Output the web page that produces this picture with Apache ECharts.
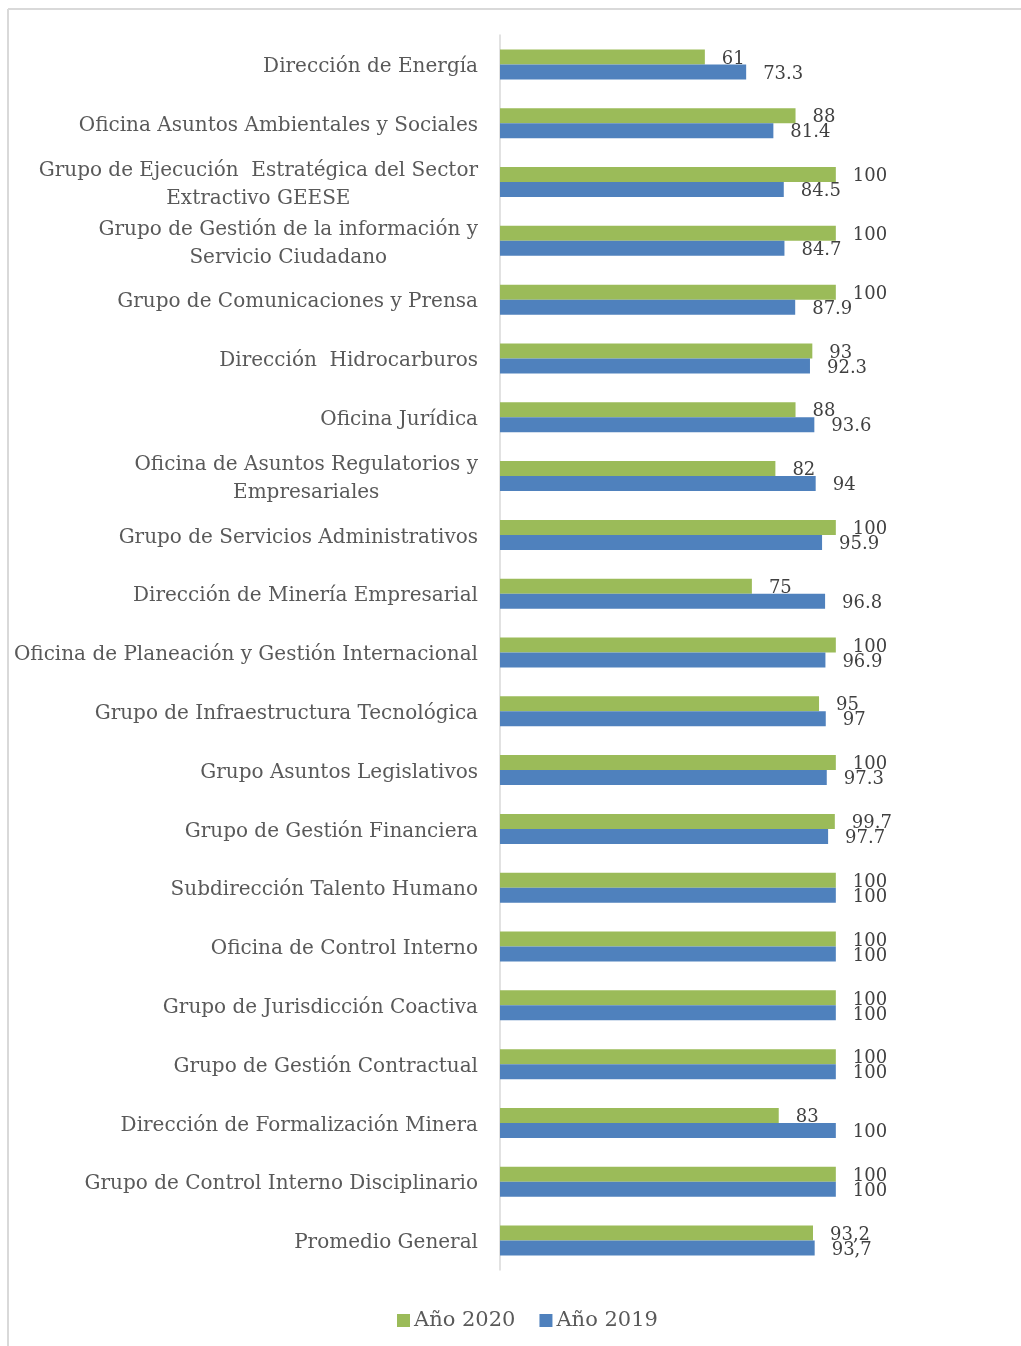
<!DOCTYPE html>
<html>
<head>
<meta charset="utf-8">
<script src="https://cdn.jsdelivr.net/npm/echarts@6/dist/echarts.min.js"></script>
<style>
html,body{margin:0;padding:0;background:#fff;}
#chart{width:1021px;height:1346px;}
</style>
</head>
<body>
<div id="chart"></div>
<script>
const categories = [
  "Dirección de Energía",
  "Oficina Asuntos Ambientales y Sociales",
  "Grupo de Ejecución  Estratégica del Sector\nExtractivo GEESE",
  "Grupo de Gestión de la información y\nServicio Ciudadano",
  "Grupo de Comunicaciones y Prensa",
  "Dirección  Hidrocarburos",
  "Oficina Jurídica",
  "Oficina de Asuntos Regulatorios y\nEmpresariales",
  "Grupo de Servicios Administrativos",
  "Dirección de Minería Empresarial",
  "Oficina de Planeación y Gestión Internacional",
  "Grupo de Infraestructura Tecnológica",
  "Grupo Asuntos Legislativos",
  "Grupo de Gestión Financiera",
  "Subdirección Talento Humano",
  "Oficina de Control Interno",
  "Grupo de Jurisdicción Coactiva",
  "Grupo de Gestión Contractual",
  "Dirección de Formalización Minera",
  "Grupo de Control Interno Disciplinario",
  "Promedio General"
];
const values2020 = [61, 88, 100, 100, 100, 93, 88, 82, 100, 75, 100, 95, 100, 99.7, 100, 100, 100, 100, 83, 100, 93.2];
const values2019 = [73.3, 81.4, 84.5, 84.7, 87.9, 92.3, 93.6, 94, 95.9, 96.8, 96.9, 97, 97.3, 97.7, 100, 100, 100, 100, 100, 100, 93.7];
const labels2020 = ["61","88","100","100","100","93","88","82","100","75","100","95","100","99.7","100","100","100","100","83","100","93,2"];
const labels2019 = ["73.3","81.4","84.5","84.7","87.9","92.3","93.6","94","95.9","96.8","96.9","97","97.3","97.7","100","100","100","100","100","100","93,7"];
const seriesNames = ["Año 2020", "Año 2019"];

const FONT = "DejaVu Serif";
const TXT = "#595959";
const chart = echarts.init(document.getElementById('chart'), null, {renderer: 'canvas'});

const option = {
  backgroundColor: '#ffffff',
  animation: false,
  textStyle: {fontFamily: FONT},
  graphic: [
    {type: 'line', shape: {x1: 8, y1: 9, x2: 8, y2: 1346}, style: {stroke: '#d9d9d9', lineWidth: 2}},
    {type: 'line', shape: {x1: 8, y1: 9, x2: 1021, y2: 9}, style: {stroke: '#d9d9d9', lineWidth: 2}}
  ],
  legend: {
    top: 1305,
    left: 392,
    itemWidth: 13,
    itemHeight: 13,
    itemGap: 24,
    icon: 'rect',
    textStyle: {fontFamily: FONT, fontSize: 21, color: TXT, padding: [0, 0, 0, -1]},
    data: seriesNames
  },
  grid: {left: 500, top: 35, bottom: 76, width: 403, containLabel: false},
  xAxis: {
    type: 'value', min: 0, max: 120,
    show: false
  },
  yAxis: {
    type: 'category',
    inverse: true,
    data: categories,
    axisLine: {show: true, lineStyle: {color: '#d9d9d9', width: 1.5}},
    axisTick: {show: false},
    axisLabel: {
      margin: 22,
      fontFamily: FONT,
      fontSize: 20,
      color: TXT,
      lineHeight: 28,
      padding: [5, 0, 0, 0],
      formatter: function (v) {
        if (v.indexOf('\n') < 0) return v;
        return v.split('\n').map(function (s) { return '{c|' + s + '}'; }).join('\n');
      },
      rich: {c: {align: 'center', fontFamily: FONT, fontSize: 20, color: TXT, lineHeight: 28}}
    }
  },
  series: [
    {
      name: seriesNames[0], type: 'bar', data: values2020,
      barWidth: 15, barGap: '0%',
      itemStyle: {color: '#9bbb59'},
      label: {show: true, position: 'right', distance: 17, offset: [0, 2], fontFamily: FONT, fontSize: 18, color: '#404040',
        formatter: function (p) { return labels2020[p.dataIndex]; }}
    },
    {
      name: seriesNames[1], type: 'bar', data: values2019,
      barWidth: 15, barGap: '0%',
      itemStyle: {color: '#4f81bd'},
      label: {show: true, position: 'right', distance: 17, offset: [0, 2], fontFamily: FONT, fontSize: 18, color: '#404040',
        formatter: function (p) { return labels2019[p.dataIndex]; }}
    }
  ]
};
chart.setOption(option);
</script>
</body>
</html>
